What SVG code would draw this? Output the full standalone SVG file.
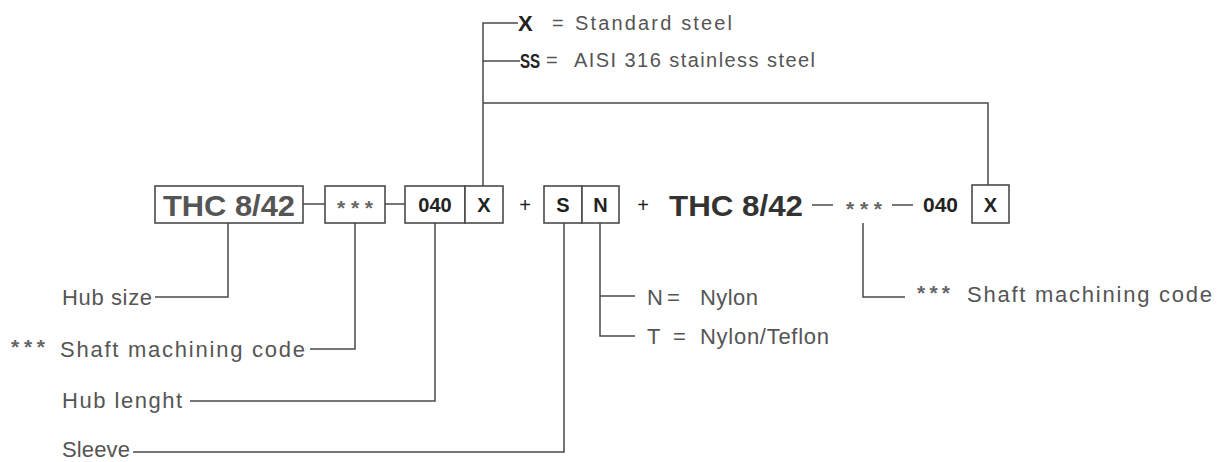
<svg xmlns="http://www.w3.org/2000/svg" width="1217" height="462" viewBox="0 0 1217 462">
<style>
.bg{fill:#ffffff}
.box{fill:#ffffff;stroke:#4a4a4a;stroke-width:1.6}
.ln{fill:none;stroke:#4a4a4a;stroke-width:1.5}
.big{font-family:"Liberation Sans",Arial,sans-serif;font-weight:bold;font-size:30px}
.code{font-family:"Liberation Sans",Arial,sans-serif;font-weight:bold;font-size:20px;fill:#222}
.lab{font-family:"Liberation Sans",Arial,sans-serif;font-size:22px;fill:#555}
.top{font-family:"Liberation Sans",Arial,sans-serif;font-size:20px;fill:#555}
.bold{font-weight:bold;fill:#222;font-size:22px}
.ast{font-family:"Liberation Sans",Arial,sans-serif;font-size:21px;font-weight:bold;fill:#666}
</style>
<rect class="bg" x="0" y="0" width="1217" height="462"/>
<g id="connectors">
  <polyline class="ln" points="228,223 228,297 155,297"/>
  <polyline class="ln" points="355,223 355,349 310,349"/>
  <polyline class="ln" points="435,223 435,401 190,401"/>
  <polyline class="ln" points="564,223 564,452 133,452"/>
  <polyline class="ln" points="600,223 600,336 635,336"/>
  <line class="ln" x1="600" y1="296" x2="635" y2="296"/>
  <polyline class="ln" points="863,223 863,297 905,297"/>
  <polyline class="ln" points="518,23 483,23 483,186"/>
  <line class="ln" x1="483" y1="61" x2="520" y2="61"/>
  <polyline class="ln" points="483,103 988,103 988,185"/>
  <line class="ln" x1="303" y1="204" x2="325" y2="204"/>
  <line class="ln" x1="385" y1="204" x2="405" y2="204"/>
  <line class="ln" x1="812" y1="205" x2="833" y2="205"/>
  <line class="ln" x1="892" y1="205" x2="913" y2="205"/>
</g>
<g id="hub-size-code">
  <rect class="box" x="155" y="186" width="148" height="37"/>
  <text class="big" x="163" y="216" fill="#555" textLength="132" lengthAdjust="spacingAndGlyphs">THC 8/42</text>
</g>
<g id="shaft-code">
  <rect class="box" x="325" y="186" width="60" height="37"/>
  <text class="ast" x="337" y="215" textLength="36" lengthAdjust="spacing">***</text>
</g>
<g id="hub-length-code">
  <rect class="box" x="405" y="186" width="60" height="37"/>
  <text class="code" x="435" y="212" text-anchor="middle">040</text>
</g>
<g id="material-code">
  <rect class="box" x="465" y="186" width="38" height="37"/>
  <text class="code" x="484" y="212" text-anchor="middle">X</text>
</g>
<g id="plus1"><text class="code" x="525" y="212" text-anchor="middle" style="font-weight:normal">+</text></g>
<g id="sleeve-code">
  <rect class="box" x="544" y="186" width="38" height="37"/>
  <text class="code" x="563" y="212" text-anchor="middle">S</text>
</g>
<g id="sleeve-material-code">
  <rect class="box" x="582" y="186" width="37" height="37"/>
  <text class="code" x="600.5" y="212" text-anchor="middle">N</text>
</g>
<g id="plus2"><text class="code" x="643" y="212" text-anchor="middle" style="font-weight:normal">+</text></g>
<g id="second-hub">
  <text class="big" x="669" y="216" fill="#333" textLength="134" lengthAdjust="spacingAndGlyphs">THC 8/42</text>
</g>
<g id="second-shaft-code">
  <text class="ast" x="846" y="216" textLength="36" lengthAdjust="spacing">***</text>
</g>
<g id="second-length">
  <text class="code" x="923" y="212" textLength="35" lengthAdjust="spacingAndGlyphs">040</text>
</g>
<g id="second-material">
  <rect class="box" x="972" y="185" width="37" height="38"/>
  <text class="code" x="990.5" y="212" text-anchor="middle">X</text>
</g>
<g id="label-hub-size"><text class="lab" x="62" y="305" textLength="90" lengthAdjust="spacing">Hub size</text></g>
<g id="label-shaft">
  <text class="ast" x="11" y="354" textLength="34" lengthAdjust="spacing">***</text>
  <text class="lab" x="60" y="357" textLength="245" lengthAdjust="spacing">Shaft machining code</text>
</g>
<g id="label-hub-length"><text class="lab" x="62" y="408" textLength="120" lengthAdjust="spacing">Hub lenght</text></g>
<g id="label-sleeve"><text class="lab" x="62" y="457" textLength="68" lengthAdjust="spacing">Sleeve</text></g>
<g id="label-nylon">
  <text class="lab" x="647" y="305">N</text>
  <text class="lab" x="667" y="305">=</text>
  <text class="lab" x="700" y="305" textLength="58" lengthAdjust="spacing">Nylon</text>
</g>
<g id="label-teflon">
  <text class="lab" x="647" y="344">T</text>
  <text class="lab" x="673" y="344">=</text>
  <text class="lab" x="700" y="344" textLength="129" lengthAdjust="spacing">Nylon/Teflon</text>
</g>
<g id="label-shaft-2">
  <text class="ast" x="917" y="300" textLength="33" lengthAdjust="spacing">***</text>
  <text class="lab" x="967" y="302" textLength="245" lengthAdjust="spacing">Shaft machining code</text>
</g>
<g id="label-standard">
  <text class="top bold" x="518" y="31">X</text>
  <text class="top" x="552" y="30">=</text>
  <text class="top" x="575" y="30" textLength="157" lengthAdjust="spacing">Standard steel</text>
</g>
<g id="label-stainless">
  <text class="top bold" transform="translate(520,68) scale(0.72,1)" x="0" y="0" style="font-size:21px">SS</text>
  <text class="top" x="546" y="67">=</text>
  <text class="top" x="574" y="67" textLength="241" lengthAdjust="spacing">AISI 316 stainless steel</text>
</g>
</svg>
